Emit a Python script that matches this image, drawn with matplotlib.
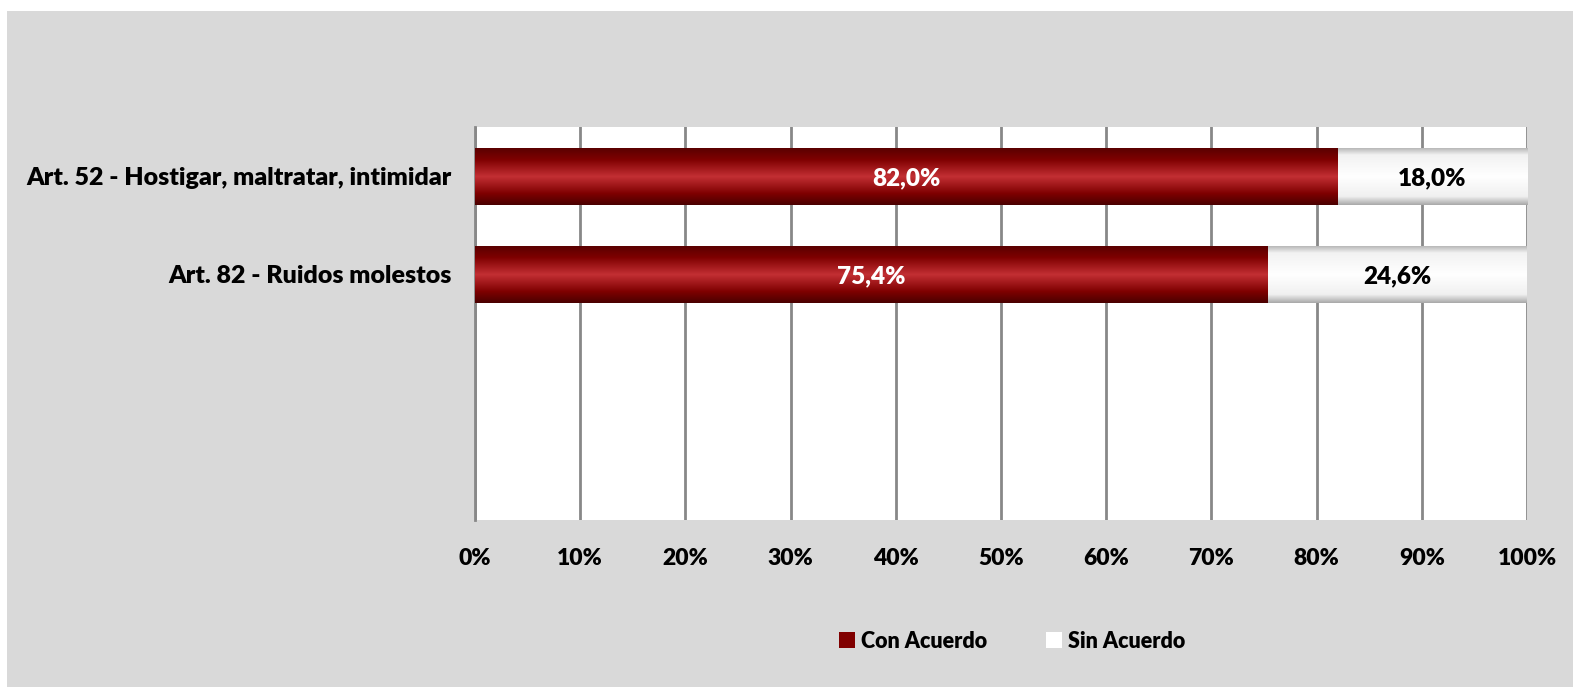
import numpy as np
import matplotlib
matplotlib.use("Agg")
import matplotlib.pyplot as plt
from matplotlib.patches import Rectangle
from matplotlib.colors import LinearSegmentedColormap

categories = ["Art. 52 - Hostigar, maltratar, intimidar", "Art. 82 - Ruidos molestos"]
con_acuerdo = [82.0, 75.4]
sin_acuerdo = [18.0, 24.6]
series_names = ["Con Acuerdo", "Sin Acuerdo"]
x_ticks = [0, 10, 20, 30, 40, 50, 60, 70, 80, 90, 100]

FONT = ["Lato", "DejaVu Sans"]
plt.rcParams["font.family"] = FONT
WT = "heavy"
plt.rcParams["font.weight"] = WT

W, H = 1573, 687
fig = plt.figure(figsize=(W / 100, H / 100), dpi=100)
fig.patch.set_facecolor("white")
bg = Rectangle((7 / W, 0), 1 - 7 / W, 1 - 11 / H, transform=fig.transFigure,
               facecolor="#d9d9d9", edgecolor="none", zorder=-10)
fig.patches.append(bg)

ax = fig.add_axes([475 / W, 1 - 520 / H, (1527 - 475) / W, (520 - 127) / H])
ax.set_facecolor("white")

y = np.arange(len(categories))
red_cmap = LinearSegmentedColormap.from_list("red", [
    (0.0, "#5a0000"), (0.2, "#7e0000"), (0.5, "#c32f33"), (0.8, "#7e0000"), (1.0, "#4a0000")])
white_cmap = LinearSegmentedColormap.from_list("wh", [
    (0.0, "#b8b8b8"), (0.12, "#f2f2f2"), (0.5, "#ffffff"), (0.85, "#f0f0f0"), (1.0, "#a8a8a8")])

bh = 0.58
b1 = ax.barh(y, con_acuerdo, height=bh, color="#800000", zorder=3, label=series_names[0])
b2 = ax.barh(y, sin_acuerdo, left=con_acuerdo, height=bh, color="white", zorder=3,
             label=series_names[1])

grad = np.linspace(0, 1, 256).reshape(-1, 1)
for bars, cmap in ((b1, red_cmap), (b2, white_cmap)):
    for p in bars:
        x0, y0 = p.get_x(), p.get_y()
        w, h = p.get_width(), p.get_height()
        im = ax.imshow(grad, cmap=cmap, aspect="auto", extent=(x0, x0 + w, y0 + h, y0),
                       zorder=4, interpolation="bilinear")
        im.set_clip_path(p)
ax.set_xlim(0, 100)
ax.set_ylim(3.5, -0.5)

for i in range(len(categories)):
    ax.text(con_acuerdo[i] / 2, y[i] + 0.02, f"{con_acuerdo[i]:.1f}%".replace(".", ","),
            ha="center", va="center", color="white", fontsize=17.5, fontweight=WT, zorder=6)
    ax.text(con_acuerdo[i] + sin_acuerdo[i] / 2, y[i] + 0.02,
            f"{sin_acuerdo[i]:.1f}%".replace(".", ","),
            ha="center", va="center", color="black", fontsize=17.5, fontweight=WT, zorder=6)

ax.set_xticks(x_ticks)
ax.set_xticklabels([f"{t}%" for t in x_ticks], fontsize=16.5, fontweight=WT)
ax.set_yticks(y)
ax.set_yticklabels(categories, fontsize=18, fontweight=WT)
ax.tick_params(axis="x", length=0, pad=20)
ax.tick_params(axis="y", length=0, pad=17)
ax.grid(axis="x", color="#888888", linewidth=2, zorder=1)
ax.set_axisbelow(True)
for s in ["top", "right", "bottom"]:
    ax.spines[s].set_visible(False)
ax.spines["left"].set_color("#888888")
ax.spines["left"].set_linewidth(2)

leg = fig.legend(handles=[Rectangle((0, 0), 1, 1, facecolor="#800000"),
                          Rectangle((0, 0), 1, 1, facecolor="white")],
                 labels=series_names, loc="center", bbox_to_anchor=(1012 / W, 1 - 641 / H),
                 ncol=2, frameon=False, handlelength=0.75, handleheight=0.75,
                 handletextpad=0.3, columnspacing=2.7,
                 prop={"family": FONT, "weight": WT, "size": 15.5})

fig.savefig("out.png", dpi=100, facecolor=fig.get_facecolor())
